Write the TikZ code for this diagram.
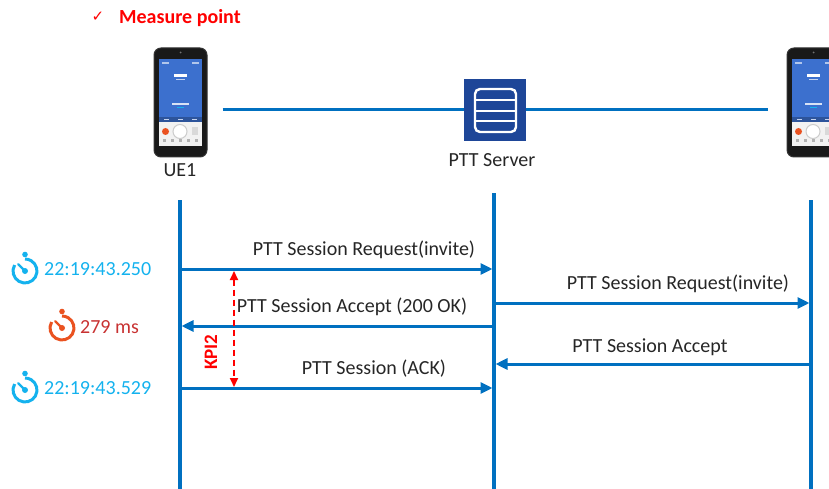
\documentclass[tikz,border=0pt]{standalone}
\usepackage{fontspec}
\setmainfont{Carlito}
\newfontfamily\symfont{DejaVu Sans}
\usetikzlibrary{arrows.meta}

\definecolor{lineblue}{RGB}{0,112,192}
\definecolor{srvblue}{RGB}{30,70,152}
\definecolor{scrblue}{RGB}{60,112,206}
\definecolor{timecyan}{RGB}{20,178,238}
\definecolor{iconred}{RGB}{234,82,32}
\definecolor{msred}{RGB}{200,50,50}
\definecolor{kpired}{RGB}{255,0,0}

\tikzset{
	handset/.style={draw=black!80, fill=black!90, rounded corners=7pt, line width=1pt,
		minimum width=53pt, minimum height=109pt, inner sep=0pt},
	srvbox/.style={fill=srvblue, minimum size=62pt, inner sep=0pt},
	lifeline/.style={draw=lineblue, line width=3.5pt},
	link/.style={draw=lineblue, line width=3pt},
	msg/.style={draw=lineblue, line width=3pt, -{Triangle[length=12pt,width=11pt]}},
	kpi/.style={draw=kpired, line width=1.8pt, dash pattern=on 6pt off 4pt,
		{Triangle[length=9pt,width=8pt]}-{Triangle[length=9pt,width=8pt]}},
	lbl/.style={font=\fontsize{20}{22}\selectfont, text=black!85, inner sep=0pt},
	stamp/.style={font=\fontsize{20}{22}\selectfont, inner sep=0pt, anchor=west}
}

% screen details of a handset, drawn from the body's north west corner
\newcommand{\screendetails}[1]{%
	\begin{scope}[shift={(#1.north west)}]
		\fill[scrblue] (5,12) rectangle (48,70);
		\fill[scrblue!75!black] (5,70) rectangle (48,75);
		\fill[black!5] (5,75) rectangle (48,99);
		\fill[white] (20,27) rectangle (33,29.5);
		\fill[white!70!scrblue] (22,32) rectangle (31,33);
		\fill[white!80!scrblue] (18,56) rectangle (35,57.5);
		\fill[timecyan] (23,60) rectangle (30,61);
		\fill[white!60!scrblue] (8,15) rectangle (15,16.5);
		\fill[white!60!scrblue] (38,15) rectangle (45,16.5);
		\foreach \x in {10,24,38}
			\fill[white!70!scrblue] (\x,72) rectangle (\x+5,73);
		\fill[iconred] (12,84) circle (3.5);
		\draw[black!20, fill=white, line width=1pt] (26.5,84) circle (7);
		\fill[black!15] (38,80) rectangle (44,88);
		\foreach \x in {11,19,27,35,43}
			\fill[black!30] (\x-1.5,92) rectangle (\x+1.5,95);
		\fill[black!55] (27,5) circle (1);
	\end{scope}
}

% stopwatch icon: centre x, centre y, colour
\newcommand{\stopwatch}[3]{%
	\begin{scope}[shift={(#1,#2)}, yscale=-1]
		\draw[#3, line width=3pt] (150:12) arc (150:450:12);
		\fill[#3] (0,16.5) circle (2.8);
		\draw[#3, line width=2.4pt, line cap=round] (0,0) -- (135:9.5);
		\fill[#3] (0,0) circle (3);
	\end{scope}
}

\begin{document}
\begin{tikzpicture}[x=1pt, y=-1pt]
	\useasboundingbox (0,0) rectangle (829,489);
	\clip (0,0) rectangle (829,489);
	
	% legend
	\node[text=kpired, font=\symfont\fontsize{15}{16}\selectfont, inner sep=0pt] (tick) at (98,17) {✓};
	\node[text=kpired, font=\bfseries\fontsize{20}{22}\selectfont, inner sep=0pt, anchor=west] (legend) at (119,18) {Measure point};
	
	% terminals and server
	\node[handset] (ue1) at (180.5,102.5) {};
	\screendetails{ue1}
	\node[handset] (ue2) at (813.5,102.5) {};
	\screendetails{ue2}
	\node[lbl] (ue1name) at (180,170) {UE1};
	
	\node[srvbox] (srv) at (495,110) {};
	\draw[white, line width=2.4pt, rounded corners=5pt] (475,89) rectangle (516,132);
	\foreach \y in {100,111,121}
		\draw[white, line width=2.4pt] (475,\y) -- (516,\y);
	\node[lbl] (srvname) at (492,160) {PTT Server};
	
	\draw[link] ([xshift=15pt]ue1.east |- srv.west) -- (srv.west);
	\draw[link] (srv.east) -- ([xshift=-19pt]ue2.west |- srv.east);
	
	% lifelines
	\coordinate (l1) at (180,200);
	\coordinate (l2) at (494,193);
	\coordinate (l3) at (811,200);
	\draw[lifeline] (l1) -- (l1 |- 0,495);
	\draw[lifeline] (l2) -- (l2 |- 0,495);
	\draw[lifeline] (l3) -- (l3 |- 0,495);
	
	% messages
	\coordinate (m1) at (0,269);
	\coordinate (m2) at (0,303);
	\coordinate (m3) at (0,326);
	\coordinate (m4) at (0,364);
	\coordinate (m5) at (0,388);
	\draw[msg] (l1 |- m1) -- ([xshift=-1.5pt]l2 |- m1);
	\draw[msg] (l2 |- m2) -- ([xshift=-1.5pt]l3 |- m2);
	\draw[msg] (l2 |- m3) -- ([xshift=1.5pt]l1 |- m3);
	\draw[msg] (l3 |- m4) -- ([xshift=1.5pt]l2 |- m4);
	\draw[msg] (l1 |- m5) -- ([xshift=-1.5pt]l2 |- m5);
	
	\node[lbl] (t1) at (364,250) {PTT Session Request(invite)};
	\node[lbl] (t2) at (678,284) {PTT Session Request(invite)};
	\node[lbl] (t3) at (352,307) {PTT Session Accept (200 OK)};
	\node[lbl] (t4) at (650,347) {PTT Session Accept};
	\node[lbl] (t5) at (374,369) {PTT Session (ACK)};
	
	% KPI between first request and ACK
	\coordinate (k1) at (234,271);
	\coordinate (k2) at (234,387);
	\draw[kpi] (k1) -- (k2);
	\node[text=kpired, font=\bfseries\fontsize{19}{20}\selectfont, rotate=90, inner sep=0pt] (kpi) at (211,352) {KPI2};
	
	% timestamps
	\stopwatch{25}{271}{timecyan}
	\node[stamp, text=timecyan] (ts1) at (44,269) {22:19:43.250};
	\stopwatch{62}{328}{iconred}
	\node[stamp, text=msred] (dt) at (80,327) {279 ms};
	\stopwatch{25}{390}{timecyan}
	\node[stamp, text=timecyan] (ts2) at (44,388) {22:19:43.529};
\end{tikzpicture}
\end{document}
